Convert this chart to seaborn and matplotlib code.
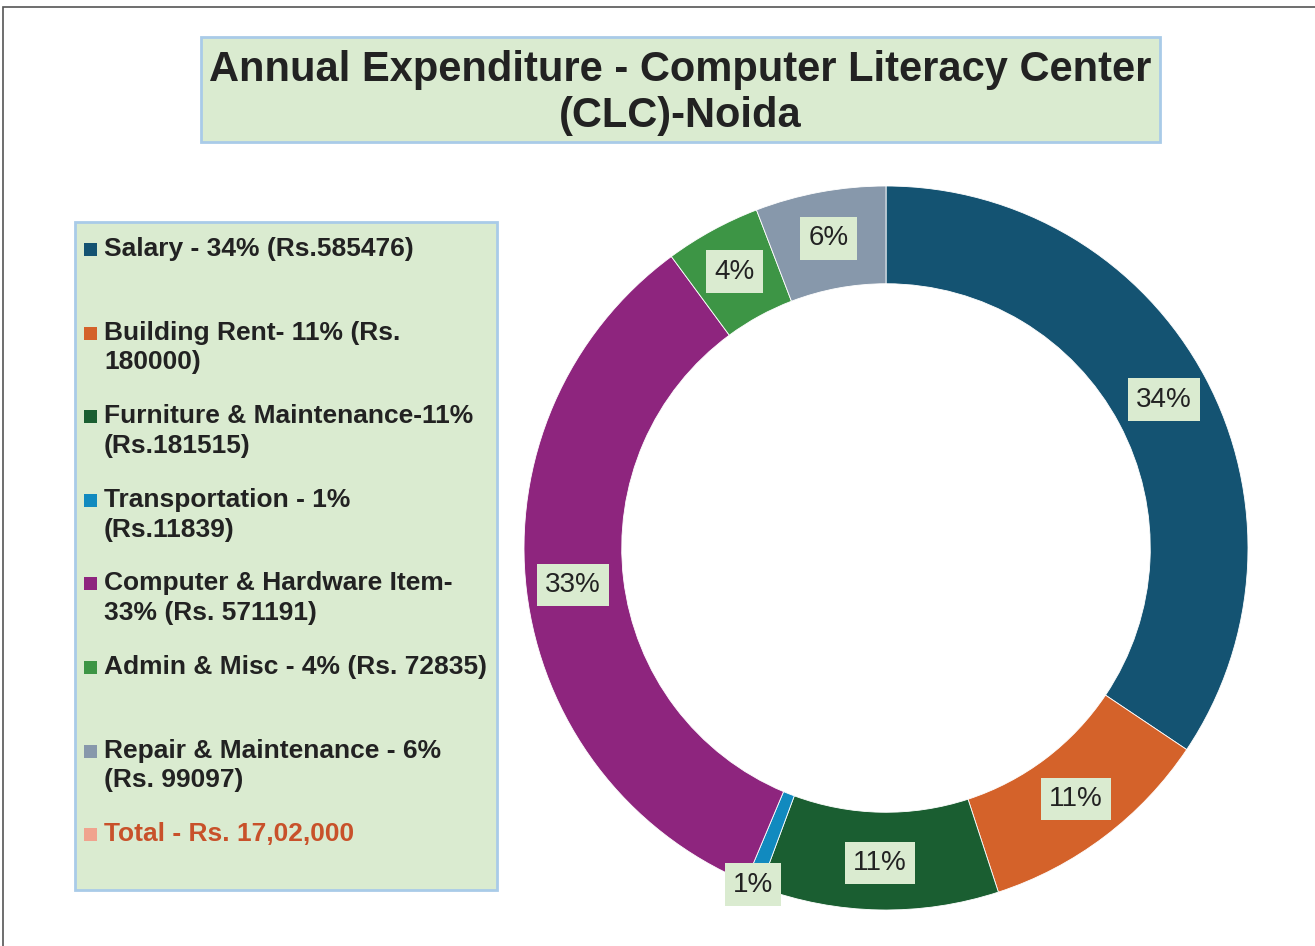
import matplotlib
matplotlib.use("Agg")
import matplotlib.pyplot as plt
import seaborn as sns
import numpy as np
from matplotlib.patches import Rectangle

sns.set_theme(style="white")
plt.rcParams['font.family'] = ['Liberation Sans', 'DejaVu Sans']

# data
categories = ["Salary", "Building Rent", "Furniture & Maintenance", "Transportation",
              "Computer & Hardware Item", "Admin & Misc", "Repair & Maintenance"]
amounts = [585476, 180000, 181515, 11839, 571191, 72835, 99097]
pct_labels = ["34%", "11%", "11%", "1%", "33%", "4%", "6%"]
legend_labels = ["Salary - 34% (Rs.585476)",
                 "Building Rent- 11% (Rs.\n180000)",
                 "Furniture & Maintenance-11%\n(Rs.181515)",
                 "Transportation - 1%\n(Rs.11839)",
                 "Computer & Hardware Item-\n33% (Rs. 571191)",
                 "Admin & Misc - 4% (Rs. 72835)",
                 "Repair & Maintenance - 6%\n(Rs. 99097)"]
total_label = "Total - Rs. 17,02,000"
colors = ["#145372", "#D4622A", "#1A5E31", "#118ABF", "#8E257E", "#3D9545", "#8798AB"]
box_green = "#DAEBD0"
box_edge = "#A9CBE8"

W, H = 1315, 946
fig = plt.figure(figsize=(W / 100, H / 100), dpi=100)
fig.patch.set_facecolor("white")

# outer frame (top and left visible)
fig.patches.append(Rectangle((3 / W, -0.05), 1.2, 0.05 + (H - 7) / H, transform=fig.transFigure,
                             fill=False, edgecolor="#555555", lw=1.2))

# donut
cx, cy, R = 886, 548, 362
ax = fig.add_axes([(cx - R) / W, (H - cy - R) / H, 2 * R / W, 2 * R / H])
wedges, texts = ax.pie(
    amounts, colors=colors, startangle=90, counterclock=False, radius=1,
    wedgeprops=dict(width=0.27, edgecolor="white", linewidth=0.6))
share = np.array(amounts) / sum(amounts)
for w, lab, s in zip(wedges, pct_labels, share):
    ang = np.deg2rad((w.theta1 + w.theta2) / 2)
    r = 1.0 if s < 0.02 else 0.87
    ax.text(r * np.cos(ang), r * np.sin(ang), lab, ha="center", va="center",
            fontsize=20, color="#222222",
            bbox=dict(boxstyle="square,pad=0.3", facecolor=box_green, edgecolor="none"))
ax.set_xlim(-1, 1)
ax.set_ylim(-1, 1)
ax.set_aspect("equal")
ax.axis("off")

# title box
fig.patches.append(Rectangle((201 / W, 1 - 142 / H), 959 / W, 105 / H, transform=fig.transFigure,
                             facecolor=box_green, edgecolor=box_edge, lw=2))
fig.text(680 / W, 1 - 93 / H, "Annual Expenditure - Computer Literacy Center\n(CLC)-Noida",
         ha="center", va="center", fontsize=30, fontweight="bold", color="#222222",
         linespacing=1.2)

# legend box
fig.patches.append(Rectangle((75 / W, 1 - 890 / H), 422 / W, 668 / H, transform=fig.transFigure,
                             facecolor=box_green, edgecolor=box_edge, lw=2))
y0, dy = 249, 83.6
for i, (lab, col) in enumerate(zip(legend_labels + [total_label], colors + ["#F0A38E"])):
    y = y0 + i * dy
    fig.patches.append(Rectangle((84 / W, 1 - (y + 7) / H), 13 / W, 13 / H,
                                 transform=fig.transFigure, facecolor=col, edgecolor="none"))
    fig.text(104 / W, 1 - (y - 12) / H, lab, ha="left", va="top", fontsize=19,
             fontweight="bold", color="#C8512A" if i == 7 else "#222222", linespacing=1.3)

fig.savefig("out.png", dpi=100)
